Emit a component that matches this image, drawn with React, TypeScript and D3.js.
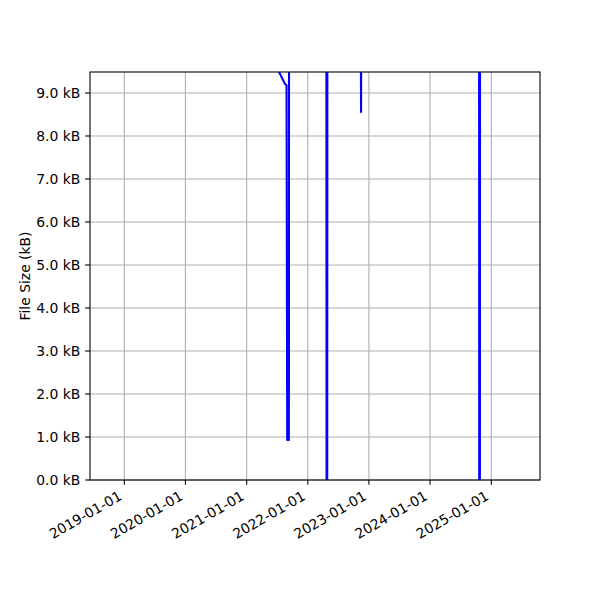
import React from "react";
import * as d3 from "d3";

// Observation dates and file sizes (kB); many values lie above the visible range
const dates: string[] = [
  "2018-10-10", "2019-06-15", "2020-05-01", "2021-02-10", "2021-06-03",
  "2021-08-18", "2021-08-27", "2021-08-31", "2021-09-10", "2021-09-11",
  "2022-01-20", "2022-04-22", "2022-04-23", "2022-04-27", "2022-04-28",
  "2022-11-13", "2022-11-15", "2022-11-17", "2023-08-01", "2024-10-20",
  "2024-10-21", "2024-10-25", "2024-10-26", "2025-06-19",
];
const sizesKB: number[] = [
  10.4, 10.6, 10.9, 10.3, 9.8,
  9.21, 9.18, 0.93, 0.93, 10.8,
  11.0, 11.2, 0.0, 0.0, 11.3,
  11.4, 8.56, 11.5, 11.7, 11.9,
  0.0, 0.0, 12.0, 12.1,
];
const xTickLabels: string[] = [
  "2019-01-01", "2020-01-01", "2021-01-01", "2022-01-01",
  "2023-01-01", "2024-01-01", "2025-01-01",
];
const yTickValues: number[] = [0, 1, 2, 3, 4, 5, 6, 7, 8, 9];
const xDomain: string[] = ["2018-06-10", "2025-10-19"];
const yDomain: number[] = [0, 9.488];
const yLabel = "File Size (kB)";

const parse = d3.utcParse("%Y-%m-%d");

export default function App() {
  const W = 600, H = 600;
  const left = 90, right = 540, top = 72, bottom = 480;
  const x = d3.scaleUtc().domain(xDomain.map((d) => parse(d) as Date)).range([left, right]);
  const y = d3.scaleLinear().domain(yDomain).range([bottom, top]);
  const data = dates.map((d, i) => ({ t: parse(d) as Date, v: sizesKB[i] }));
  const line = d3
    .line<{ t: Date; v: number }>()
    .x((d) => x(d.t))
    .y((d) => y(d.v));
  const font = "DejaVu Sans, sans-serif";
  const fs = 13.9;
  const tickLen = 4.86;
  const grid = "#b0b0b0";

  return (
    <svg width={W} height={H} style={{ display: "block", position: "absolute", left: 0, top: 0 }}>
      <rect x={0} y={0} width={W} height={H} fill="#ffffff" />
      <defs>
        <clipPath id="plotclip">
          <rect x={left} y={top} width={right - left} height={bottom - top} />
        </clipPath>
      </defs>
      {/* grid */}
      {xTickLabels.map((s) => {
        const px = x(parse(s) as Date);
        return <line key={"gx" + s} x1={px} x2={px} y1={top} y2={bottom} stroke={grid} strokeWidth={1.1} />;
      })}
      {yTickValues.map((v) => (
        <line key={"gy" + v} x1={left} x2={right} y1={y(v)} y2={y(v)} stroke={grid} strokeWidth={1.1} />
      ))}
      {/* data line */}
      <path
        d={line(data) || ""}
        fill="none"
        stroke="#0000ff"
        strokeWidth={2.08}
        strokeLinejoin="round"
        strokeLinecap="square"
        clipPath="url(#plotclip)"
      />
      {/* spines */}
      <rect x={left} y={top} width={right - left} height={bottom - top} fill="none" stroke="#000" strokeWidth={1.1} />
      {/* y ticks */}
      {yTickValues.map((v) => (
        <g key={"yt" + v}>
          <line x1={left - tickLen} x2={left} y1={y(v)} y2={y(v)} stroke="#000" strokeWidth={1.1} />
          <text
            x={left - tickLen - 4.86}
            y={y(v)}
            dy="0.36em"
            textAnchor="end"
            fontFamily={font}
            fontSize={fs}
            fill="#000"
          >
            {v.toFixed(1) + " kB"}
          </text>
        </g>
      ))}
      {/* x ticks */}
      {xTickLabels.map((s) => {
        const px = x(parse(s) as Date);
        return (
          <g key={"xt" + s}>
            <line x1={px} x2={px} y1={bottom} y2={bottom + tickLen} stroke="#000" strokeWidth={1.1} />
            <text
              transform={`translate(${px - 1.5},${bottom + tickLen + 4.86 + 9.2}) rotate(-30)`}
              textAnchor="end"
              fontFamily={font}
              fontSize={fs}
              fill="#000"
            >
              {s}
            </text>
          </g>
        );
      })}
      {/* y label */}
      <text
        transform={`translate(30,${(top + bottom) / 2}) rotate(-90)`}
        textAnchor="middle"
        fontFamily={font}
        fontSize={fs}
        fill="#000"
      >
        {yLabel}
      </text>
    </svg>
  );
}
